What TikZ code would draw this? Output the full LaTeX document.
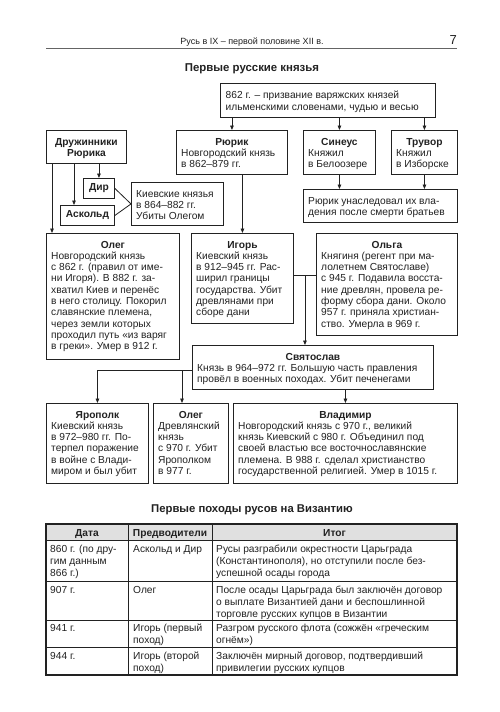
\documentclass[tikz,border=0pt]{standalone}
\usepackage{fontspec}
\setmainfont{Liberation Sans}
\usetikzlibrary{arrows.meta,calc}
\definecolor{ink}{HTML}{222222}
\definecolor{hdr}{HTML}{E0E0E0}
\tikzset{
  card/.style={draw=ink, line width=0.9pt, inner sep=0pt, fill=white},
  ttl/.style={inner sep=0pt, font=\bfseries\fontsize{10.2}{11.3}\selectfont, text=ink},
  txt/.style={inner sep=0pt, font=\fontsize{10.2}{11.3}\selectfont, text=ink},
  ctxt/.style={inner sep=0pt, font=\fontsize{10.2}{12}\selectfont, text=ink},
  arr/.style={draw=ink, line width=0.8pt, -{Triangle[length=4.5pt,width=3.6pt]}},
  ln/.style={draw=ink, line width=0.8pt},
  tab/.style={draw=ink, line width=1pt},
}
\newcommand\card[7]{%
  \node[card, minimum width=#4pt, minimum height=#5pt, anchor=north west] (#1) at (#2,#3) {};
  \node[ttl, anchor=base] (#1-t) at ($(#1.north)+(0,15)$) {\begin{tabular}[t]{@{}c@{}}#6\end{tabular}};
  \node[txt, anchor=base west] (#1-b) at ($(#1.north west)+(5,26.3)$) {\begin{tabular}[t]{@{}l@{}}#7\end{tabular}};
}
\newcommand\plainbox[6]{%
  \node[card, minimum width=#4pt, minimum height=#5pt, anchor=north west] (#1) at (#2,#3) {};
  \node[txt, anchor=base west] (#1-b) at ($(#1.north west)+(5,15)$) {\begin{tabular}[t]{@{}l@{}}#6\end{tabular}};
}
\newcommand\cell[4]{%
  \node[ctxt, anchor=base west] (#1) at (#2,#3) {\begin{tabular}[t]{@{}l@{}}#4\end{tabular}};
}
\begin{document}
\begin{tikzpicture}[x=1pt,y=-1pt]
\useasboundingbox (0,0) rectangle (500,712);
\fill[white] (0,0) rectangle (500,712);

% running head
\node[inner sep=0pt, anchor=base, text=ink, font=\fontsize{9}{10}\selectfont] (runhead) at (252,44) {Русь в IX – первой половине XII в.};
\node[inner sep=0pt, anchor=base east, text=ink, font=\fontsize{13}{14}\selectfont] (pagenum) at (457,44) {7};
\draw[line width=0.5pt, ink!70] (46,48.5) -- (457,48.5);

\node[inner sep=0pt, anchor=base, text=ink, font=\bfseries\fontsize{11.4}{12}\selectfont] (title1) at (252,71.5) {Первые русские князья};

% top box
\node[card, minimum width=215pt, minimum height=34pt, anchor=north west] (top) at (220,83) {};
\node[inner sep=0pt, anchor=base west, text=ink, font=\fontsize{10.2}{12}\selectfont] (top-b) at ($(top.north west)+(5.5,15)$) {\begin{tabular}[t]{@{}l@{}}862 г. – призвание варяжских князей\\ильменскими словенами, чудью и весью\end{tabular}};

% druzhinniki
\node[card, minimum width=80pt, minimum height=33pt, anchor=north west] (druz) at (46,130) {};
\node[ttl, anchor=base] (druz-t) at ($(druz.north)+(0,15)$) {\begin{tabular}[t]{@{}c@{}}Дружинники\\Рюрика\end{tabular}};

\card{rurik}{176}{130}{111}{44}{Рюрик}{Новгородский князь\\в 862–879 гг.}
\card{sineus}{303}{130}{72}{44}{Синеус}{Княжил\\в Белоозере}
\card{truvor}{391}{130}{66}{44}{Трувор}{Княжил\\в Изборске}

\node[card, font=\bfseries\fontsize{10.2}{11.3}\selectfont, text=ink, minimum width=31pt, minimum height=20pt, anchor=north west] (dir) at (83,178) {Дир};
\node[card, font=\bfseries\fontsize{10.2}{11.3}\selectfont, text=ink, minimum width=54pt, minimum height=20pt, anchor=north west] (askold) at (60,205) {Аскольд};

\plainbox{kiev}{131}{182}{92}{43}{Киевские князья\\в 864–882 гг.\\Убиты Олегом}
\plainbox{nasl}{303}{189}{154}{33}{Рюрик унаследовал их вла-\\дения после смерти братьев}

\card{oleg}{46}{233}{133}{126}{Олег}{Новгородский князь\\с 862 г. (правил от име-\\ни Игоря). В 882 г. за-\\хватил Киев и перенёс\\в него столицу. Покорил\\славянские племена,\\через земли которых\\проходил путь «из варяг\\в греки». Умер в 912 г.}
\card{igor}{191}{233}{102}{90}{Игорь}{Киевский князь\\в 912–945 гг. Рас-\\ширил границы\\государства. Убит\\древлянами при\\сборе дани}
\card{olga}{316}{233}{141}{102}{Ольга}{Княгиня (регент при ма-\\лолетнем Святославе)\\с 945 г. Подавила восста-\\ние древлян, провела ре-\\форму сбора дани. Около\\957 г. приняла христиан-\\ство. Умерла в 969 г.}
\card{svyat}{192}{345}{241}{44}{Святослав}{Князь в 964–972 гг. Большую часть правления\\провёл в военных походах. Убит печенегами}
\card{yarop}{46}{403}{102}{80}{Ярополк}{Киевский князь\\в 972–980 гг. По-\\терпел поражение\\в войне с Влади-\\миром и был убит}
\card{oleg2}{153}{403}{75}{80}{Олег}{Древлянский\\князь\\с 970 г. Убит\\Ярополком\\в 977 г.}
\card{vlad}{233}{403}{224}{80}{Владимир}{Новгородский князь с 970 г., великий\\князь Киевский с 980 г. Объединил под\\своей властью все восточнославянские\\племена. В 988 г. сделал христианство\\государственной религией. Умер в 1015 г.}

% connectors
\draw[arr] (rurik |- top.south) -- (rurik.north);
\draw[arr] (sineus |- top.south) -- (sineus.north);
\draw[arr] (truvor |- top.south) -- (truvor.north);
\draw[arr] (sineus.south) -- (sineus |- nasl.north);
\draw[arr] (truvor.south) -- (truvor |- nasl.north);
\draw[arr] (dir |- druz.south) -- (dir.north);
\coordinate (askin) at ($(askold.north west)+(14,0)$);
\draw[arr] (askin |- druz.south) -- (askin);
\coordinate (olin) at ($(oleg.north west)+(6,0)$);
\draw[arr] (olin |- druz.south) -- (olin);
\draw[ln] (dir.east) -- (kiev.west) -- (askold.east);
\draw[arr] (igor |- rurik.south) -- (igor.north);
\coordinate (io) at ($(igor.north east)!0.5!(olga.north west)+(0,42)$);
\draw[ln] (igor.east |- io) -- (olga.west |- io);
\draw[arr] (io) -- (io |- svyat.north);
\coordinate (svl) at ($(svyat.west)+(0,3)$);
\draw[arr] (svl) -| (yarop.north);
\coordinate (o2in) at ($(oleg2.north west)+(29,0)$);
\draw[arr] (o2in |- svl) -- (o2in);
\draw[arr] (vlad |- svyat.south) -- (vlad.north);

% table
\node[inner sep=0pt, anchor=base, text=ink, font=\bfseries\fontsize{11.3}{12}\selectfont] (title2) at (252,512) {Первые походы русов на Византию};
\fill[hdr] (46,524) rectangle (457,540);
\draw[tab] (46,540) -- (457,540);
\draw[tab] (46,581) -- (457,581);
\draw[tab] (46,620) -- (457,620);
\draw[tab] (46,647) -- (457,647);
\draw[tab] (128,524) -- (128,675);
\draw[tab] (212,524) -- (212,675);
\draw[tab, line width=1.2pt] (46,524) rectangle (457,675);
\node[ttl, anchor=base] (h1) at (87,536) {Дата};
\node[ttl, anchor=base] (h2) at (170,536) {Предводители};
\node[ttl, anchor=base] (h3) at (334.5,536) {Итог};
\cell{r1a}{50}{552}{860 г. (по дру-\\гим данным\\866 г.)}
\cell{r1b}{133}{552}{Аскольд и Дир}
\cell{r1c}{216}{552}{Русы разграбили окрестности Царьграда\\(Константинополя), но отступили после без-\\успешной осады города}
\cell{r2a}{50}{593}{907 г.}
\cell{r2b}{133}{593}{Олег}
\cell{r2c}{216}{593}{После осады Царьграда был заключён договор\\о выплате Византией дани и беспошлинной\\торговле русских купцов в Византии}
\cell{r3a}{50}{631.5}{941 г.}
\cell{r3b}{133}{631.5}{Игорь (первый\\поход)}
\cell{r3c}{216}{631.5}{Разгром русского флота (сожжён «греческим\\огнём»)}
\cell{r4a}{50}{659}{944 г.}
\cell{r4b}{133}{659}{Игорь (второй\\поход)}
\cell{r4c}{216}{659}{Заключён мирный договор, подтвердивший\\привилегии русских купцов}
\end{tikzpicture}
\end{document}
